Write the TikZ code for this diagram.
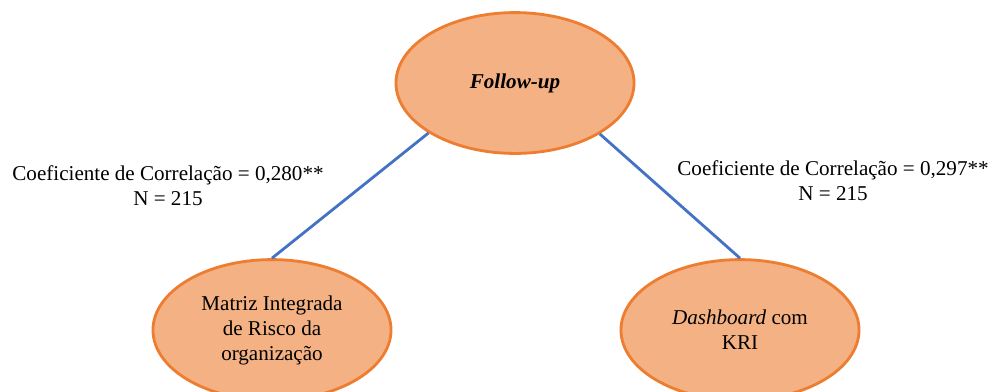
\documentclass[tikz,border=0pt]{standalone}
\usepackage{fontspec}
\setmainfont{Liberation Serif}
\usetikzlibrary{shapes.geometric}
\definecolor{bubblefill}{HTML}{F4B183}
\definecolor{bubbleedge}{HTML}{ED7D31}
\definecolor{linkblue}{HTML}{4472C4}
\begin{document}
\begin{tikzpicture}[x=0.025cm,y=-0.025cm,
  bubble/.style={ellipse, draw=bubbleedge, fill=bubblefill, line width=2pt,
    minimum width=5.95cm, minimum height=3.52cm, inner sep=0pt,
    align=center, font=\fontsize{15}{17.8}\selectfont},
  link/.style={draw=linkblue, line width=2pt},
  stat/.style={align=center, inner sep=0pt, font=\fontsize{15}{17.8}\selectfont}]
\useasboundingbox (0,0) rectangle (992,391);
% the three variables
\node[bubble] (fu) at (515,83) {\textbf{\textit{Follow-up}}};
\node[bubble] (mat) at (272,330) {Matriz Integrada\\de Risco da\\organização};
\node[bubble] (dash) at (740,330) {\textit{Dashboard} com\\KRI};
% correlations
\draw[link] (fu.210.3) -- (mat.north);
\draw[link] (fu.329.7) -- (dash.north);
% statistics beside each link
\node[stat] (s1) at (168,185.5) {Coeficiente de Correlação = 0,280**\\N = 215};
\node[stat] (s2) at (833,180.5) {Coeficiente de Correlação = 0,297**\\N = 215};
\end{tikzpicture}
\end{document}
